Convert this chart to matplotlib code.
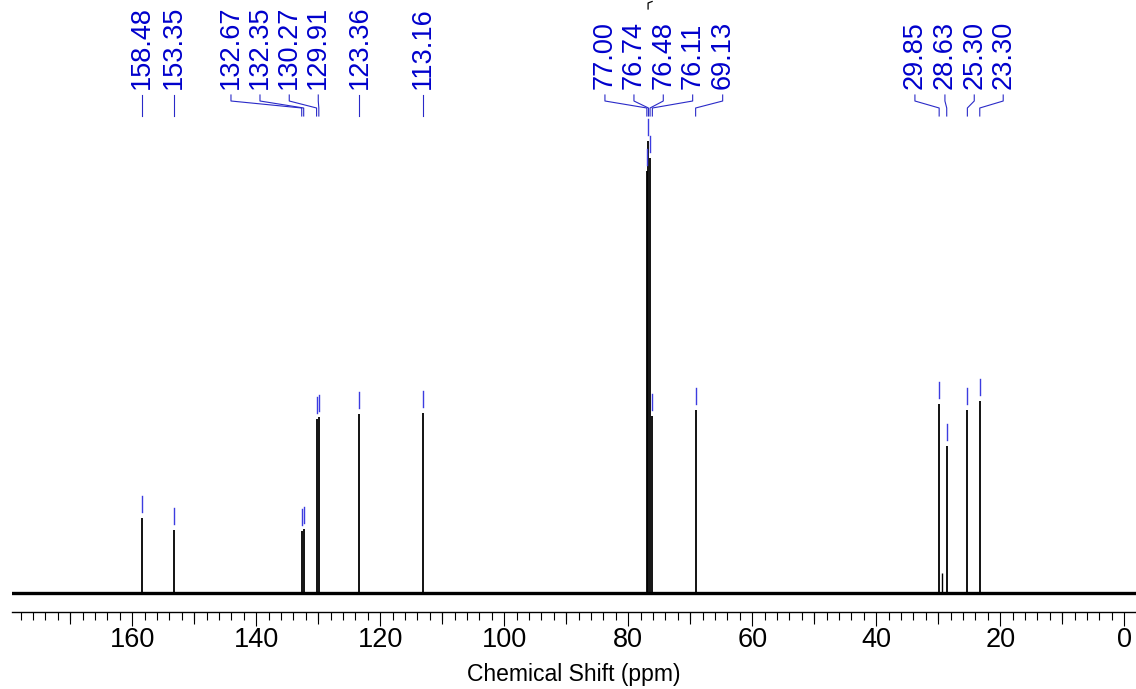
import matplotlib
matplotlib.use('Agg')
import matplotlib.pyplot as plt
import matplotlib.transforms as mtransforms
from matplotlib.ticker import MultipleLocator, FixedLocator

# peak list (ppm) and heights (arbitrary units)
peak_ppm = [158.48, 153.35, 132.67, 132.35, 130.27, 129.91, 123.36, 113.16,
            77.00, 76.74, 76.48, 76.11, 69.13, 29.85, 28.63, 25.30, 23.30]
peak_height = [75, 63, 62, 64, 174, 176, 179, 180,
               422, 452, 435, 177, 183, 189, 147, 183, 192]

# small unlabelled shoulder next to 29.85
minor_ppm = [29.45]
minor_height = [20]

# where the rotated peak labels sit (ppm), spread apart so they don't collide
label_ppm = [158.48, 153.35, 144.08, 139.40, 134.68, 130.00, 123.36, 113.16,
             83.76, 79.08, 74.35, 69.61, 64.77, 33.76, 28.92, 24.19, 19.52]

plt.rcParams['font.family'] = ['Liberation Sans', 'DejaVu Sans']

W, H = 1136, 689
fig = plt.figure(figsize=(W / 100, H / 100), dpi=100)
ax_bottom = 612  # pixel row of the bottom spine
ax = fig.add_axes([12 / W, (H - ax_bottom) / H, (W - 12) / W, ax_bottom / H])

ax.set_xlim(179.4, -1.9)
ax.set_ylim(-19, 593)

def fy(p):
    # pixel row (from top) -> axes fraction
    return (ax_bottom - p) / ax_bottom

# baseline (noise band) and peaks
ax.axhline(0, color='black', lw=2.4, zorder=2)
ax.vlines(peak_ppm, 0, peak_height, color='black', lw=1.3, zorder=3)
ax.vlines(minor_ppm, 0, minor_height, color='black', lw=1.0, zorder=3)

# short blue marks above each labelled peak
for x, h in zip(peak_ppm, peak_height):
    ax.plot([x, x], [h + 6, h + 22], color='#3c3ce0', lw=1.0, zorder=4)

# labels + leader lines
trans = mtransforms.blended_transform_factory(ax.transData, ax.transAxes)
for x, lx in zip(peak_ppm, label_ppm):
    ax.plot([lx, lx, x, x], [fy(95), fy(101), fy(108), fy(116)],
            color='#2a2ac8', lw=0.8, transform=trans, clip_on=False)
    ax.text(lx, fy(89), f'{x:.2f}', rotation=90, ha='center', va='bottom',
            fontsize=19.5, color='#0000cc', transform=trans)

# clipped bracket remnant at the very top
ax.plot([76.8, 76.8, 76.15], [fy(9), fy(3), fy(1.5)], color='black', lw=0.9,
        transform=trans, clip_on=False)

# axis styling
for s in ['top', 'left', 'right']:
    ax.spines[s].set_visible(False)
ax.spines['bottom'].set_linewidth(1.0)
ax.set_yticks([])
ax.xaxis.set_major_locator(MultipleLocator(20))
ax.xaxis.set_minor_locator(MultipleLocator(2))
ax.tick_params(axis='x', which='major', length=10, width=0.8, labelsize=19.5, pad=1)
ax.tick_params(axis='x', which='minor', length=5.4, width=0.8)

# medium ticks every 10 ppm
sec = ax.secondary_xaxis('bottom')
sec.xaxis.set_major_locator(FixedLocator(list(range(10, 180, 20))))
sec.tick_params(axis='x', which='major', length=8.6, width=0.8, labelbottom=False)
sec.xaxis.set_minor_locator(FixedLocator([]))
sec.spines['bottom'].set_visible(False)

ax.set_xlabel('Chemical Shift (ppm)', fontsize=16.5, labelpad=7)

fig.savefig('out.png', dpi=100)
plt.close(fig)
